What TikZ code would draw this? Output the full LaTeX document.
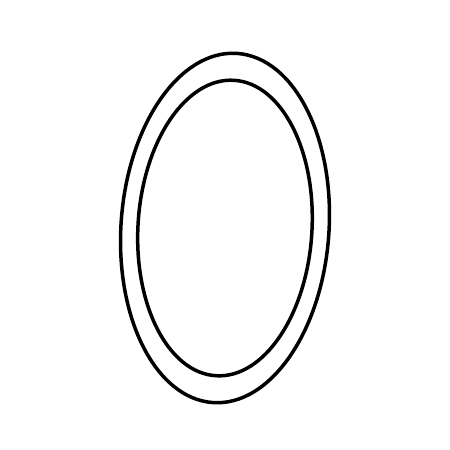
\documentclass[tikz,border=0pt]{standalone}
\usepackage{tikz}
\usetikzlibrary{calc}

\begin{document}
\begin{tikzpicture}[x=1pt, y=1pt, ring/.style={line width=3.5pt, black}]
			\useasboundingbox (0, 0) rectangle (450, 450);
			\coordinate (c) at (225, 222);
			\draw [ring, rotate around={-4:(c)}] (c) ellipse (104 and 175);
			\draw [ring, rotate around={-3.5:(c)}] (c) ellipse (87 and 148);
		\end{tikzpicture}
\end{document}
